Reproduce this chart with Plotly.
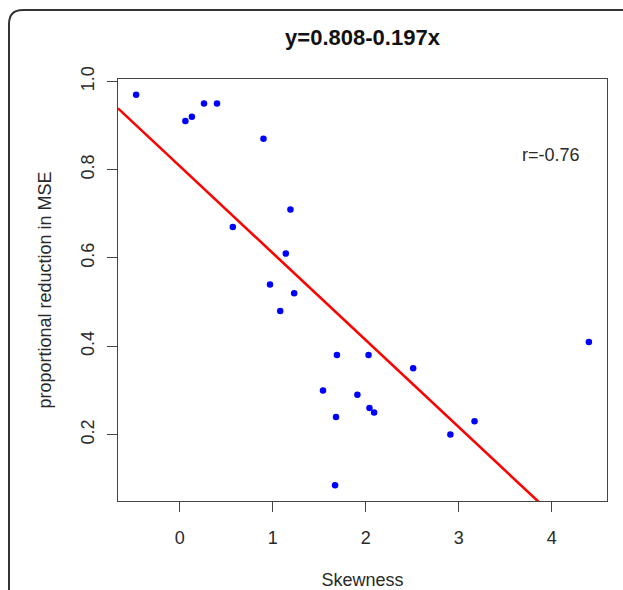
import plotly.graph_objects as go

# Data
skewness = [-0.47, 0.06, 0.13, 0.26, 0.40, 0.90, 1.19, 0.57, 1.14, 0.97, 1.23, 1.08,
            4.40, 1.69, 2.03, 2.51, 1.54, 1.91, 2.04, 2.09, 1.68, 3.17, 2.91, 1.67]
reduction = [0.97, 0.91, 0.92, 0.95, 0.95, 0.87, 0.71, 0.67, 0.61, 0.54, 0.52, 0.48,
             0.41, 0.38, 0.38, 0.35, 0.30, 0.29, 0.26, 0.25, 0.24, 0.23, 0.20, 0.085]
intercept = 0.808
slope = -0.197
r_value = -0.76
x_ticks = [0, 1, 2, 3, 4]
y_ticks = [0.2, 0.4, 0.6, 0.8, 1.0]

W, H = 623, 590
ML, MR, MT, MB = 118, 16, 79, 89


def r_range(v):
    lo, hi = min(v), max(v)
    pad = 0.04 * (hi - lo)
    return [lo - pad, hi + pad]


xr = r_range(skewness)
yr = r_range(reduction)

FONT = "Liberation Sans, Arial, sans-serif"
TXT = "#2a2a2a"

fig = go.Figure()
fig.add_trace(go.Scatter(
    x=[xr[0], xr[1]],
    y=[intercept + slope * xr[0], intercept + slope * xr[1]],
    mode="lines", line=dict(color="#ff0000", width=2.6),
    hoverinfo="skip", showlegend=False))
fig.add_trace(go.Scatter(
    x=skewness, y=reduction, mode="markers",
    marker=dict(color="#0000ff", size=6.5, line=dict(width=0)),
    showlegend=False, cliponaxis=False))

fig.add_annotation(x=3.99, y=0.834, xref="x", yref="y", text=f"r={r_value}",
                   showarrow=False, font=dict(family=FONT, size=18, color=TXT))

# outer frame (rounded corner), in paper coords
pw = W - ML - MR
ph = H - MT - MB


def px(x):
    return (x - ML) / pw


def py(y):
    return (H - MB - y) / ph


frame = (f"M {px(9)} {py(640)} L {px(9)} {py(24)} "
         f"Q {px(9)} {py(10)} {px(23)} {py(10)} L {px(660)} {py(10)}")
fig.add_shape(type="path", xref="paper", yref="paper", path=frame,
              line=dict(color="#333333", width=2), layer="above")

axis_common = dict(
    showgrid=False, zeroline=False, showline=True, mirror=True,
    linecolor="#444444", linewidth=1.3, automargin=False,
    ticks="outside", ticklen=10, tickwidth=1.3, tickcolor="#444444",
    tickfont=dict(family=FONT, size=18, color=TXT),
)

fig.update_layout(
    width=W, height=H,
    margin=dict(l=ML, r=MR, t=MT, b=MB, autoexpand=False),
    paper_bgcolor="white", plot_bgcolor="white",
    title=dict(text="<b>y=0.808-0.197x</b>", x=(ML + pw / 2) / W, xanchor="center",
               y=1 - 37 / H, yanchor="middle",
               font=dict(family=FONT, size=22, color="#111111")),
    xaxis=dict(range=xr, tickvals=x_ticks, ticktext=[str(t) for t in x_ticks],
               ticklabelstandoff=10,
               title=dict(text="Skewness", standoff=29,
                          font=dict(family=FONT, size=18, color=TXT)),
               **axis_common),
    yaxis=dict(range=yr, tickvals=y_ticks, ticktext=[f"{t:.1f}" for t in y_ticks],
               tickangle=-90, ticklabelstandoff=6,
               title=dict(text="proportional reduction in MSE", standoff=21,
                          font=dict(family=FONT, size=18, color=TXT)),
               **axis_common),
)

fig.write_html("out.html")
